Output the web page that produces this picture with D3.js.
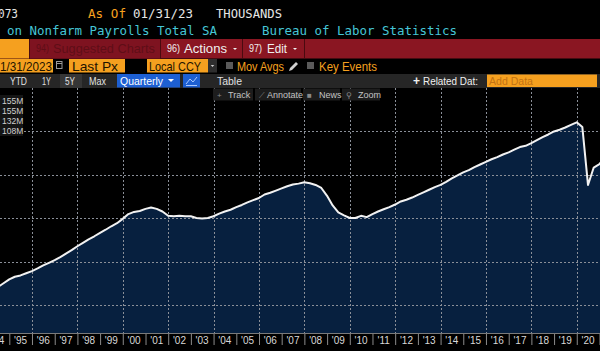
<!DOCTYPE html>
<html>
<head>
<meta charset="utf-8">
<script src="https://cdn.jsdelivr.net/npm/d3@7"></script>
<style>
  html, body { margin: 0; padding: 0; background: #000; }
  svg { display: block; }
</style>
</head>
<body>
<div id="chart"></div>
<script>
// quarterly nonfarm payrolls (thousands), last value of each quarter, starting 1994 Q1
const firstQuarterEnd = [1994, 3]; // year, month (Mar)
const payrolls = [
  113200, 114100, 115000, 115900,
  116500, 116800, 117300, 117800,
  118400, 119100, 119700, 120300,
  121000, 121800, 122600, 123500,
  124300, 125100, 125800, 126600,
  127300, 128100, 128800, 129800,
  130900, 131400, 131600, 132100,
  132400, 132100, 131500, 130500,
  130400, 130500, 130400, 130400,
  130000, 129900, 130000, 130400,
  131000, 131500, 131900, 132500,
  133000, 133600, 134100, 134600,
  135400, 135800, 136300, 136800,
  137300, 137700, 137900, 138200,
  138000, 137600, 136900, 135100,
  132900, 131300, 130600, 130000,
  130000, 130500, 130200, 130900,
  131500, 132000, 132500, 133100,
  133800, 134200, 134700, 135300,
  135900, 136500, 137100, 137600,
  138300, 139100, 139800, 140500,
  141000, 141700, 142300, 142900,
  143500, 144000, 144600, 145100,
  145700, 146300, 146600, 147200,
  147900, 148600, 149200, 149900,
  150300, 150800, 151400, 152000,
  150900, 137600, 141600, 142400,
  144100
];
const gridValues = [110000, 120000, 130000, 140000, 150000];
const gridYears = [1996, 1998, 2000, 2002, 2004, 2006, 2008, 2010, 2012, 2014, 2016, 2018, 2020];
const yearLabels = ["'94","'95","'96","'97","'98","'99","'00","'01","'02","'03","'04","'05","'06","'07",
  "'08","'09","'10","'11","'12","'13","'14","'15","'16","'17","'18","'19","'20"];
const legendLabels = ["155M", "155M", "132M", "108M"];

const W = 600, H = 351;
const plotTop = 88, plotBottom = 333;
const mono = "'DejaVu Sans Mono', monospace";
const sans = "'Liberation Sans', Arial, sans-serif";
const orange = "#f5a01f";

const data = payrolls.map((v, i) => ({
  date: new Date(Date.UTC(firstQuarterEnd[0], firstQuarterEnd[1] + 3 * i, 0)),
  value: v
}));

const x = d3.scaleUtc()
  .domain([new Date(Date.UTC(1995, 0, 1)), new Date(Date.UTC(2021, 0, 1))])
  .range([9.3, 599.5]);
const y = d3.scaleLinear()
  .domain([110000, 150000])
  .range([305, 131]);

const svg = d3.select("#chart").append("svg")
  .attr("width", W).attr("height", H)
  .attr("viewBox", [0, 0, W, H])
  .style("background", "#000");

// ---- plot ----
const area = d3.area()
  .x(d => x(d.date))
  .y0(plotBottom)
  .y1(d => y(d.value));
const line = d3.line()
  .x(d => x(d.date))
  .y(d => y(d.value));

svg.append("path")
  .datum(data)
  .attr("fill", "#07203f")
  .attr("d", area);

// grid
const gridColor = "#8a8f98";
const grid = svg.append("g").attr("class", "grid");
grid.selectAll("line.v")
  .data(gridYears)
  .join("line")
  .attr("class", "v")
  .attr("x1", d => Math.round(x(new Date(Date.UTC(d, 0, 1)))) + 0.5)
  .attr("x2", d => Math.round(x(new Date(Date.UTC(d, 0, 1)))) + 0.5)
  .attr("y1", plotTop).attr("y2", plotBottom)
  .attr("stroke", gridColor).attr("stroke-width", 1)
  .attr("stroke-dasharray", "2,2");
grid.selectAll("line.h")
  .data(gridValues)
  .join("line")
  .attr("class", "h")
  .attr("x1", 0).attr("x2", W)
  .attr("y1", d => Math.round(y(d)) + 0.5).attr("y2", d => Math.round(y(d)) + 0.5)
  .attr("stroke", gridColor).attr("stroke-width", 1)
  .attr("stroke-dasharray", "2,2");

svg.append("path")
  .datum(data)
  .attr("fill", "none")
  .attr("stroke", "#f2f2f2")
  .attr("stroke-width", 2)
  .attr("stroke-linejoin", "round")
  .attr("d", line);

// ---- x axis ----
svg.append("rect").attr("x", 0).attr("y", plotBottom).attr("width", W).attr("height", H - plotBottom).attr("fill", "#000");
svg.append("line").attr("x1", 0).attr("x2", W).attr("y1", plotBottom + 0.5).attr("y2", plotBottom + 0.5)
  .attr("stroke", "#7a7a7a");

const yearStarts = d3.utcYear.range(new Date(Date.UTC(1995, 0, 1)), new Date(Date.UTC(2022, 0, 1)));
const gx = svg.append("g")
  .attr("transform", `translate(0,${plotBottom})`)
  .call(d3.axisBottom(x).tickValues(yearStarts).tickSize(12).tickFormat("").tickSizeOuter(0));
gx.select(".domain").remove();
gx.selectAll(".tick line").attr("stroke", "#8a8a8a").attr("y1", 1);

svg.append("g")
  .selectAll("text")
  .data(yearLabels)
  .join("text")
  .attr("x", (d, i) => x(new Date(Date.UTC(1994 + i, 6, 1))))
  .attr("y", 343.5)
  .attr("text-anchor", "middle")
  .attr("fill", "#d8d8d8")
  .attr("font-family", sans)
  .attr("font-size", 10)
  .text(d => d);

// ---- legend box (top-left of plot) ----
svg.append("rect").attr("x", 0).attr("y", 95).attr("width", 23).attr("height", 41).attr("fill", "#151515");
svg.append("g")
  .selectAll("text")
  .data(legendLabels)
  .join("text")
  .attr("x", 2)
  .attr("y", (d, i) => 103.5 + i * 10)
  .attr("fill", "#d0d0d0")
  .attr("font-family", sans)
  .attr("font-size", 8.5)
  .text(d => d);

// ---- header ----
const txt = (g, t, xx, yy, opts = {}) => {
  const el = g.append("text").attr("x", xx).attr("y", yy)
    .attr("font-family", opts.family || sans)
    .attr("font-size", opts.size || 12)
    .attr("fill", opts.fill || "#fff")
    .text(t);
  if (opts.len) el.attr("textLength", opts.len).attr("lengthAdjust", "spacingAndGlyphs");
  if (opts.weight) el.attr("font-weight", opts.weight);
  return el;
};
const caret = (g, cx, cy, s, fill) =>
  g.append("path").attr("d", `M${cx - s},${cy - s / 2} L${cx + s},${cy - s / 2} L${cx},${cy + s / 2} Z`).attr("fill", fill);
const hdr = svg.append("g");

// black header background (plot never shows above plotTop)
hdr.append("rect").attr("x", 0).attr("y", 0).attr("width", W).attr("height", plotTop).attr("fill", "#000");

// row 1
txt(hdr, "073", -2, 18, { family: mono, size: 12.4, fill: "#e6e6e6", len: 20 });
txt(hdr, "As Of", 88, 18, { family: mono, size: 12.4, fill: orange, len: 38 });
txt(hdr, "01/31/23", 133, 18, { family: mono, size: 12.4, fill: "#e6e6e6", len: 60 });
txt(hdr, "THOUSANDS", 216, 18, { family: mono, size: 12.4, fill: "#e6e6e6", len: 66 });
// row 2
txt(hdr, "on Nonfarm Payrolls Total SA", 7, 35, { family: mono, size: 12.4, fill: "#45c6d6", len: 210 });
txt(hdr, "Bureau of Labor Statistics", 262, 35, { family: mono, size: 12.4, fill: "#45c6d6", len: 195 });

// row 3 red bar
hdr.append("rect").attr("x", 0).attr("y", 39).attr("width", W).attr("height", 19.5).attr("fill", "#8a1622");
hdr.append("rect").attr("x", 30).attr("y", 39).attr("width", 130).attr("height", 19.5).attr("fill", "#7e1320");
hdr.append("rect").attr("x", 0).attr("y", 39).attr("width", 29).attr("height", 19.5).attr("fill", orange);
[29.5, 160.5, 242.5, 304.5].forEach(sx =>
  hdr.append("line").attr("x1", sx).attr("x2", sx).attr("y1", 39).attr("y2", 58.5).attr("stroke", "#4a0a10"));
txt(hdr, "94)", 36, 52, { size: 10, fill: "#5e0e17", len: 13 });
txt(hdr, "Suggested Charts", 53, 52.5, { size: 13, fill: "#5e0e17", len: 102 });
txt(hdr, "96)", 167, 52, { size: 10, fill: "#f0f0f0", len: 13 });
txt(hdr, "Actions", 184, 52.5, { size: 13, fill: "#f0f0f0", len: 43 });
caret(hdr, 235, 49, 2, "#f0f0f0");
txt(hdr, "97)", 249, 52, { size: 10, fill: "#f0f0f0", len: 13 });
txt(hdr, "Edit", 267, 52.5, { size: 13, fill: "#f0f0f0", len: 20 });
caret(hdr, 295, 49, 2, "#f0f0f0");

// row 4
hdr.append("rect").attr("x", 0).attr("y", 59).attr("width", 53).attr("height", 13.5).attr("fill", orange);
txt(hdr, "1/31/2023", 0, 70.5, { size: 13, fill: "#1e1400", len: 52 });
hdr.append("rect").attr("x", 56.5).attr("y", 61.5).attr("width", 5.5).attr("height", 7).attr("fill", "none").attr("stroke", "#9a9a9a");
hdr.append("line").attr("x1", 56.5).attr("x2", 62).attr("y1", 63.5).attr("y2", 63.5).attr("stroke", "#9a9a9a");
hdr.append("rect").attr("x", 69).attr("y", 59).attr("width", 56).attr("height", 13.5).attr("fill", orange);
txt(hdr, "Last Px", 72, 70.5, { size: 13, fill: "#1e1400", len: 46 });
hdr.append("rect").attr("x", 147).attr("y", 59).attr("width", 61).attr("height", 13.5).attr("fill", orange);
txt(hdr, "Local CCY", 149, 70.5, { size: 13, fill: "#1e1400", len: 52 });
hdr.append("rect").attr("x", 208).attr("y", 59).attr("width", 9).attr("height", 13.5).attr("fill", "#2e2e2e");
caret(hdr, 212.5, 66, 1.8, "#cfcfcf");
hdr.append("rect").attr("x", 226).attr("y", 62).attr("width", 7).attr("height", 7).attr("fill", "#5a5a5a");
txt(hdr, "Mov Avgs", 237, 71, { size: 13, fill: orange, len: 47 });
hdr.append("path").attr("d", "M289,71 L290,68 L296,62 L298,64 L292,70 Z").attr("fill", "#d0d0d0");
hdr.append("rect").attr("x", 307).attr("y", 62).attr("width", 7).attr("height", 7).attr("fill", "#5a5a5a");
txt(hdr, "Key Events", 319, 71, { size: 13, fill: orange, len: 58 });

// row 5 toolbar
hdr.append("rect").attr("x", 0).attr("y", 74).attr("width", W).attr("height", 14).attr("fill", "#262626");
hdr.append("rect").attr("x", 60).attr("y", 74).attr("width", 22).attr("height", 14).attr("fill", "#363636");
txt(hdr, "YTD", 10, 84.5, { size: 10.5, fill: "#e0e0e0", len: 17 });
txt(hdr, "1Y", 42, 84.5, { size: 10.5, fill: "#e0e0e0", len: 9 });
txt(hdr, "5Y", 65, 84.5, { size: 10.5, fill: "#e0e0e0", len: 10 });
txt(hdr, "Max", 89, 84.5, { size: 10.5, fill: "#e0e0e0", len: 17 });
hdr.append("rect").attr("x", 117).attr("y", 74).attr("width", 63).attr("height", 13.5).attr("fill", "#1d5fd2");
txt(hdr, "Quarterly", 120, 84.5, { size: 10.5, fill: "#ffffff", len: 43 });
caret(hdr, 171, 80.5, 3, "#ffffff");
hdr.append("rect").attr("x", 183).attr("y", 74).attr("width", 17).attr("height", 13.5).attr("fill", "#1d5fd2");
hdr.append("path").attr("d", "M186,84 L190,79 L193,82 L197,77 M186,85.5 H197")
  .attr("fill", "none").attr("stroke", "#a9c8ff").attr("stroke-width", 1);
txt(hdr, "Table", 217, 84.5, { size: 10.5, fill: "#e0e0e0", len: 25 });
txt(hdr, "+", 413, 85, { size: 12, fill: "#f0f0f0", weight: "bold" });
txt(hdr, "Related Dat:", 423, 84.5, { size: 10.5, fill: "#f0f0f0", len: 55 });
hdr.append("rect").attr("x", 487).attr("y", 74.5).attr("width", 110).attr("height", 12.5).attr("fill", orange);
txt(hdr, "Add Data", 489, 84.5, { size: 11, fill: "#c27212", len: 44 });

// row 6 chart tool buttons (over plot)
const tools = [
  { label: "Track", x0: 213, w: 40, icon: "+", tx: 228 },
  { label: "Annotate", x0: 255, w: 46, icon: "⟋", tx: 267 },
  { label: "News", x0: 303, w: 37, icon: "■", tx: 319 },
  { label: "Zoom", x0: 342, w: 38, icon: "⚲", tx: 358 }
];
tools.forEach(t => {
  hdr.append("rect").attr("x", t.x0).attr("y", 88.5).attr("width", t.w).attr("height", 12).attr("fill", "#1d1d1d");
  txt(hdr, t.icon, t.x0 + 4, 97.5, { size: 8, fill: "#8a8a8a" });
  txt(hdr, t.label, t.tx, 97.5, { size: 9, fill: "#c4c4c4" });
});
</script>
</body>
</html>
